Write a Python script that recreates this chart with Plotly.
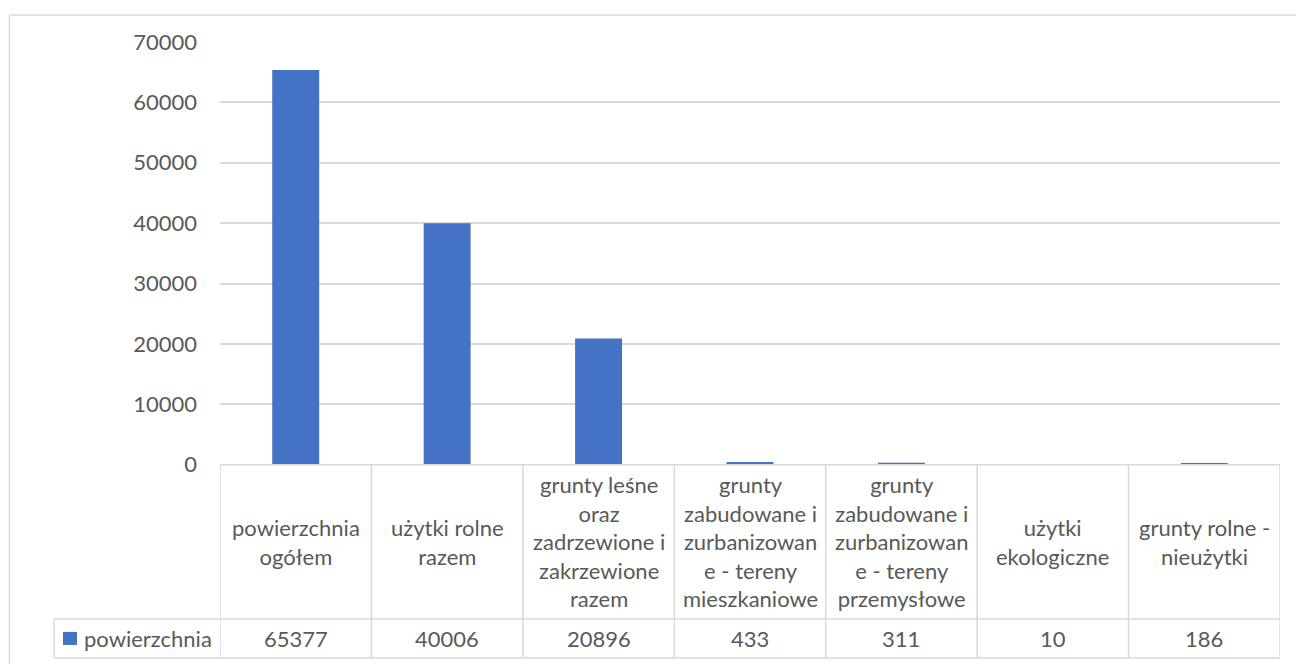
import plotly.graph_objects as go

W, H = 1296, 700
A, B = 0.96, 13.0  # observed vertical mapping of the photo: photo_y = B + A * fig_y

categories = [
    "powierzchnia ogółem",
    "użytki rolne razem",
    "grunty leśne oraz zadrzewione i zakrzewione razem",
    "grunty zabudowane i zurbanizowane - tereny mieszkaniowe",
    "grunty zabudowane i zurbanizowane - tereny przemysłowe",
    "użytki ekologiczne",
    "grunty rolne - nieużytki",
]
tick_labels = [
    "powierzchnia<br>ogółem",
    "użytki rolne<br>razem",
    "grunty leśne<br>oraz<br>zadrzewione i<br>zakrzewione<br>razem",
    "grunty<br>zabudowane i<br>zurbanizowan<br>e - tereny<br>mieszkaniowe",
    "grunty<br>zabudowane i<br>zurbanizowan<br>e - tereny<br>przemysłowe",
    "użytki<br>ekologiczne",
    "grunty rolne -<br>nieużytki",
]
series_name = "powierzchnia"
values = [65377, 40006, 20896, 433, 311, 10, 186]
y_ticks = [0, 10000, 20000, 30000, 40000, 50000, 60000, 70000]

BAR = "#4472C4"
GRID = "#D9D9D9"
TXT = "#595959"
FONT = "Lato"
FS = 22

def px(x):
    return x / W

def py(y):
    return 1 - ((y - B) / A) / H

# layout pixel geometry (in photo coordinates)
plot_l, plot_r = 220, 1280
plot_t, plot_b = 41, 463
row1_b = 617
row2_b = 656
legend_l = 54

n = len(categories)
xs = list(range(n))

fig = go.Figure()
fig.add_trace(go.Bar(
    x=xs, y=values, name=series_name,
    marker=dict(color=BAR, line=dict(width=0)),
    width=0.31, showlegend=False, hoverinfo="x+y",
))

shapes = []
line = dict(color=GRID, width=1.5)
# outer chart border
shapes.append(dict(type="line", xref="paper", yref="paper", x0=px(9.5), x1=px(1300), y0=py(14), y1=py(14), line=line))
shapes.append(dict(type="line", xref="paper", yref="paper", x0=px(9.5), x1=px(9.5), y0=py(14), y1=py(720), line=line))
# table horizontal lines
shapes.append(dict(type="line", xref="x", yref="paper", x0=-0.5, x1=n - 0.5, y0=py(plot_b), y1=py(plot_b), line=line))
for yy in (row1_b, row2_b):
    shapes.append(dict(type="line", xref="paper", yref="paper", x0=px(legend_l), x1=px(plot_r), y0=py(yy), y1=py(yy), line=line))
# table vertical lines
for i in range(n + 1):
    shapes.append(dict(type="line", xref="x", yref="paper", x0=i - 0.5, x1=i - 0.5, y0=py(plot_b), y1=py(row2_b), line=line))
shapes.append(dict(type="line", xref="paper", yref="paper", x0=px(legend_l), x1=px(legend_l), y0=py(row1_b), y1=py(row2_b), line=line))
# legend key square
shapes.append(dict(type="rect", xref="paper", yref="paper", x0=px(63), x1=px(77), y0=py(643), y1=py(630), fillcolor=BAR, line=dict(width=0)))

annotations = []
for i, lab in enumerate(tick_labels):
    annotations.append(dict(x=i, y=py((plot_b + row1_b) / 2), xref="x", yref="paper", text=lab, showarrow=False,
                            font=dict(family=FONT, size=FS, color=TXT), align="center", xanchor="center", yanchor="middle"))
    annotations.append(dict(x=i, y=py((row1_b + row2_b) / 2), xref="x", yref="paper", text=f"{values[i]}", showarrow=False,
                            font=dict(family=FONT, size=FS, color=TXT), xanchor="center", yanchor="middle"))
annotations.append(dict(x=px(82), y=py((row1_b + row2_b) / 2), xref="paper", yref="paper", text=series_name, showarrow=False,
                        font=dict(family=FONT, size=FS, color=TXT), xanchor="left", yanchor="middle"))

fig.update_layout(
    width=W, height=H,
    margin=dict(l=0, r=0, t=0, b=0),
    paper_bgcolor="white", plot_bgcolor="white",
    xaxis=dict(domain=[px(plot_l), px(plot_r)], range=[-0.5, n - 0.5], showticklabels=False,
               showgrid=False, zeroline=False, showline=False, fixedrange=True),
    yaxis=dict(domain=[py(plot_b), py(plot_t)], range=[0, 70000], tickvals=y_ticks,
               ticktext=[str(v) for v in y_ticks],
               tickfont=dict(family=FONT, size=FS, color=TXT), gridcolor=GRID, gridwidth=1.5,
               zeroline=False, showline=False, ticks="", ticklabelstandoff=22, fixedrange=True),
    shapes=shapes,
    annotations=annotations,
    bargap=0.69,
)

fig.write_html("out.html", config={"displayModeBar": False},
               post_script="document.body.style.margin='0';document.body.style.overflow='hidden';")
